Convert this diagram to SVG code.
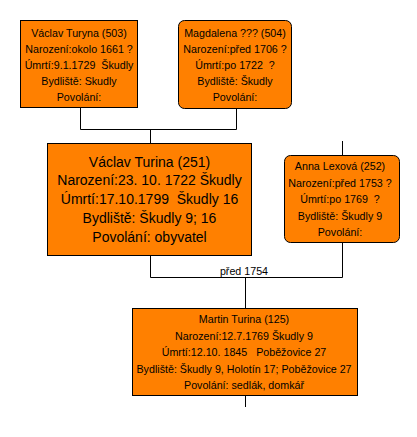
<svg xmlns="http://www.w3.org/2000/svg" width="417" height="437" viewBox="0 0 417 437">
<style>
.box{fill:#FF8000;stroke:#000;stroke-width:1}
.conn{fill:none;stroke:#000;stroke-width:1}
text{font-family:"Liberation Sans",Arial,sans-serif;font-size:10.7px;fill:#000;text-anchor:middle;white-space:pre}
.big{font-size:14px}
</style>
<rect width="417" height="437" fill="#fff"/>
<g id="connectors">
<path class="conn" d="M80.5,108 V129.5 H236.5 V109"/>
<path class="conn" d="M150.5,129.5 V143"/>
<path class="conn" d="M342.5,141 V155"/>
<path class="conn" d="M150.5,256 V277.5 H342.5 V243"/>
<path class="conn" d="M245.5,277.5 V308"/>
<path class="conn" d="M245.5,396 V407"/>
<text x="244" y="274.5">před 1754</text>
</g>
<g id="n503">
<rect class="box" x="20.5" y="20.5" width="117" height="87"/>
<text x="79" y="36.5">Václav Turyna (503)</text>
<text x="79" y="52.5">Narození:okolo 1661 ?</text>
<text x="79" y="68.5">Úmrtí:9.1.1729  Škudly</text>
<text x="79" y="85">Bydliště: Skudly</text>
<text x="79" y="101">Povolání:</text>
</g>
<g id="n504">
<rect class="box" x="178.5" y="20.5" width="113" height="88" rx="6"/>
<text x="235" y="36.5">Magdalena ??? (504)</text>
<text x="235" y="52.5">Narození:před 1706 ?</text>
<text x="235" y="68.5">Úmrtí:po 1722  ?</text>
<text x="235" y="85">Bydliště: Škudly</text>
<text x="235" y="101">Povolání:</text>
</g>
<g id="n251">
<rect class="box" x="47.5" y="143.5" width="204" height="112"/>
<text class="big" x="149.5" y="166.5">Václav Turina (251)</text>
<text class="big" x="149.5" y="185.3">Narození:23. 10. 1722 Škudly</text>
<text class="big" x="149.5" y="204">Úmrtí:17.10.1799  Škudly 16</text>
<text class="big" x="149.5" y="222.8">Bydliště: Škudly 9; 16</text>
<text class="big" x="149.5" y="241.6">Povolání: obyvatel</text>
</g>
<g id="n252">
<rect class="box" x="284.5" y="155.5" width="115" height="87" rx="6"/>
<text x="340" y="170">Anna Lexová (252)</text>
<text x="340" y="186.5">Narození:před 1753 ?</text>
<text x="340" y="203">Úmrtí:po 1769  ?</text>
<text x="340" y="219.5">Bydliště: Škudly 9</text>
<text x="340" y="236">Povolání:</text>
</g>
<g id="n125">
<rect class="box" x="132.5" y="308.5" width="225" height="87"/>
<text x="244" y="323">Martin Turina (125)</text>
<text x="244" y="339.5">Narození:12.7.1769 Škudly 9</text>
<text x="244" y="356">Úmrtí:12.10. 1845   Poběžovice 27</text>
<text x="244" y="372.5">Bydliště: Škudly 9, Holotín 17; Poběžovice 27</text>
<text x="244" y="389">Povolání: sedlák, domkář</text>
</g>
</svg>
